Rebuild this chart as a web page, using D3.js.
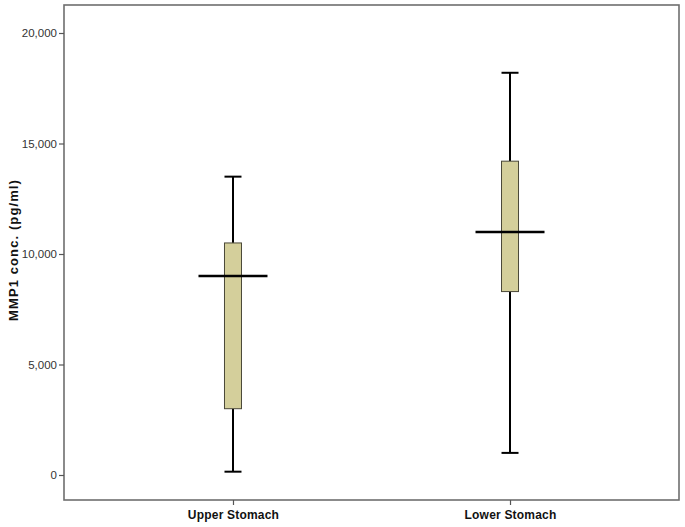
<!DOCTYPE html>
<html>
<head>
<meta charset="utf-8">
<script src="https://cdn.jsdelivr.net/npm/d3@7"></script>
<style>
  html, body { margin: 0; padding: 0; background: #fff; }
  svg { display: block; }
</style>
</head>
<body>
<svg id="chart" width="685" height="527"></svg>
<script>
const categories = ["Upper Stomach", "Lower Stomach"];
const whiskerLow = [150, 1000];
const q1 = [3000, 8300];
const median = [9000, 11000];
const q3 = [10500, 14200];
const whiskerHigh = [13500, 18200];
const yTicks = [0, 5000, 10000, 15000, 20000];
const yLabel = "MMP1 conc. (pg/ml)";

const svg = d3.select("#chart");
const pLeft = 64, pRight = 679, pTop = 5, pBottom = 500;

const y = d3.scaleLinear().domain([0, 20000]).range([475, 33]);
const x = d3.scalePoint().domain(categories).range([pLeft, pRight]).padding(0.61);

const font = "'Liberation Sans', Arial, sans-serif";

// frame
svg.append("rect")
  .attr("x", pLeft).attr("y", pTop)
  .attr("width", pRight - pLeft).attr("height", pBottom - pTop)
  .attr("fill", "#fff").attr("stroke", "#6e6e6e").attr("stroke-width", 1.6);

// y axis
const yAxis = svg.append("g").attr("transform", `translate(${pLeft},0)`)
  .call(d3.axisLeft(y).tickValues(yTicks).tickSize(5).tickPadding(2)
    .tickFormat(d3.format(",")));
yAxis.select(".domain").remove();
yAxis.selectAll("line").attr("stroke", "#555").attr("stroke-width", 1.2);
yAxis.selectAll("text").attr("font-family", font).attr("font-size", 11.5).attr("fill", "#333");

// x axis
const xAxis = svg.append("g").attr("transform", `translate(0,${pBottom})`)
  .call(d3.axisBottom(x).tickSize(5).tickPadding(5));
xAxis.select(".domain").remove();
xAxis.selectAll("line").attr("stroke", "#555").attr("stroke-width", 1.2);
xAxis.selectAll("text").attr("font-family", font).attr("font-size", 12)
  .attr("font-weight", "bold").attr("fill", "#111").attr("letter-spacing", 0.2);

// y label
svg.append("text")
  .attr("transform", `translate(18,250) rotate(-90)`)
  .attr("text-anchor", "middle")
  .attr("font-family", font).attr("font-size", 13).attr("font-weight", "bold")
  .attr("letter-spacing", 1.1)
  .attr("fill", "#111")
  .text(yLabel);

const boxW = 17, capW = 17, medW = 69;
const data = categories.map((c, i) => ({
  c, lo: whiskerLow[i], q1: q1[i], med: median[i], q3: q3[i], hi: whiskerHigh[i]
}));

const g = svg.append("g");
const bx = g.selectAll("g.box").data(data).enter().append("g").attr("class", "box");

// whiskers
bx.append("line")
  .attr("x1", d => x(d.c)).attr("x2", d => x(d.c))
  .attr("y1", d => y(d.hi)).attr("y2", d => y(d.q3))
  .attr("stroke", "#000").attr("stroke-width", 2);
bx.append("line")
  .attr("x1", d => x(d.c)).attr("x2", d => x(d.c))
  .attr("y1", d => y(d.q1)).attr("y2", d => y(d.lo))
  .attr("stroke", "#000").attr("stroke-width", 2);
// caps
bx.append("line")
  .attr("x1", d => x(d.c) - capW / 2).attr("x2", d => x(d.c) + capW / 2)
  .attr("y1", d => y(d.hi)).attr("y2", d => y(d.hi))
  .attr("stroke", "#000").attr("stroke-width", 2);
bx.append("line")
  .attr("x1", d => x(d.c) - capW / 2).attr("x2", d => x(d.c) + capW / 2)
  .attr("y1", d => y(d.lo)).attr("y2", d => y(d.lo))
  .attr("stroke", "#000").attr("stroke-width", 2);
// box
bx.append("rect")
  .attr("x", d => x(d.c) - boxW / 2).attr("width", boxW)
  .attr("y", d => y(d.q3)).attr("height", d => y(d.q1) - y(d.q3))
  .attr("fill", "#d4cf9b").attr("stroke", "#4a4838").attr("stroke-width", 1);
// median
bx.append("line")
  .attr("x1", d => x(d.c) - medW / 2).attr("x2", d => x(d.c) + medW / 2)
  .attr("y1", d => y(d.med)).attr("y2", d => y(d.med))
  .attr("stroke", "#000").attr("stroke-width", 2.5);
</script>
</body>
</html>
